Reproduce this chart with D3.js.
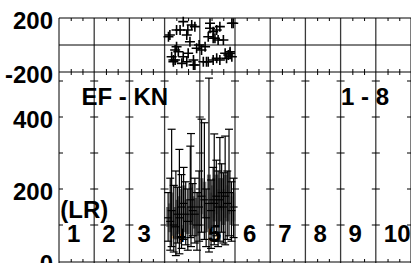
<!DOCTYPE html>
<html>
<head>
<meta charset="utf-8">
<script src="https://cdn.jsdelivr.net/npm/d3@7"></script>
<style>
    body { margin: 0; background: #fff; }
    svg { display: block; }
    text { font-family: "Liberation Sans", Arial, sans-serif; font-weight: bold; font-size: 24px; fill: #000; }
</style>
</head>
<body>
<div id="chart"></div>
<script>
// top panel scatter (x in column units, y value)
let topX = [3.53, 3.77, 3.86, 3.34, 3.15, 3.11, 3.63, 3.72, 3.44, 4.29, 4.38, 4.48, 4.57, 4.43, 4.24,
    4.67, 4.91, 4.15, 4.05, 3.91, 3.34, 3.39, 3.20, 3.30, 3.53, 3.67, 3.63, 3.86, 3.82, 4.10, 4.24,
    4.38, 4.48, 4.72, 4.81, 4.91, 4.76, 4.86, 4.57, 3.49, 3.25, 4.95, 4.29, 4.38, 3.30, 4.86, 3.25,
    3.82, 4.19, 3.66, 3.98, 4.52];
let topY = [173, 148, 136, 111, 74, 61, 74, 24, 111, 124, 99, 111, 136, 50, 61,
    37, 161, -13, -37, -24, -13, -50, -87, -111, -87, -61, -124, -148, -111, -124, -124,
    -111, -99, -61, -74, -87, -99, -50, -111, -136, -124, 161, 161, 50, -37, -61, -111,
    -148, -124, 111, 0, 37];

// bottom panel ranges
let barX    = [3.10, 3.16, 3.20, 3.26, 3.32, 3.37, 3.42, 3.48, 3.54, 3.60, 3.66, 3.73, 3.75, 3.80, 3.86, 3.92, 3.98,
    4.05, 4.13, 4.18, 4.26, 4.32, 4.38, 4.41, 4.47, 4.52, 4.57, 4.62, 4.67, 4.72, 4.78, 4.83, 4.90, 4.96];
let barLow  = [55, 30, 40, 25, 15, 50, 20, 35, 60, 45, 30, 65, 40, 70, 50, 30, 55,
    80, 60, 40, 25, 35, 60, 45, 70, 40, 55, 80, 50, 45, 60, 70, 55, 65];
let barQ1   = [95, 80, 90, 70, 60, 85, 75, 90, 110, 80, 75, 120, 100, 110, 90, 70, 100,
    130, 120, 80, 90, 95, 120, 110, 130, 100, 110, 140, 100, 120, 110, 130, 100, 110];
let barMed  = [120, 110, 140, 100, 95, 130, 120, 150, 160, 130, 110, 170, 150, 140, 130, 100, 150,
    180, 170, 120, 160, 140, 170, 160, 180, 150, 170, 190, 150, 180, 160, 190, 140, 150];
let barQ3   = [150, 160, 190, 140, 150, 170, 180, 200, 210, 170, 150, 215, 205, 180, 175, 140, 190,
    230, 220, 160, 240, 190, 210, 230, 240, 200, 230, 230, 200, 240, 210, 250, 180, 190];
let barHigh = [190, 230, 366, 210, 250, 205, 310, 240, 260, 220, 200, 319, 354, 215, 230, 190, 250,
    394, 384, 200, 508, 225, 260, 353, 280, 250, 343, 270, 245, 347, 250, 366, 220, 230];

let topTicks = [-200, 200];
let botTicks = [0, 200, 400];
let botMarks = [100, 200, 300, 400, 500];
let colLabels = ['1', '2', '3', '4', '5', '6', '7', '8', '9', '10'];

let width = 411,
    height = 263,
    left = 59;

let x = d3.scaleLinear().domain([0, 10]).range([left, 411]);
let yTop = d3.scaleLinear().domain([-200, 200]).range([72, 18]);
let yBot = d3.scaleLinear().domain([0, 500]).range([261, 81]);

let svg = d3.select('#chart').append('svg')
    .attr('width', width)
    .attr('height', height);

let minor = d3.range(1, 31).map(function(d) { return d / 3; }).filter(function(d, i) { return (i + 1) % 3 != 0; });

// vertical grid lines
svg.append('g')
    .selectAll('line')
    .data(d3.range(1, 11))
    .enter()
    .append('line')
    .attr('x1', function(d) { return x(d); })
    .attr('x2', function(d) { return x(d); })
    .attr('y1', yTop(200))
    .attr('y2', height)
    .attr('stroke', '#3a3a3a')
    .attr('stroke-width', 1.3);

// frame lines
svg.append('line').attr('x1', left).attr('x2', width).attr('y1', yTop(200)).attr('y2', yTop(200)).attr('stroke', '#000');
svg.append('line').attr('x1', left).attr('x2', width).attr('y1', yTop(0)).attr('y2', yTop(0)).attr('stroke', '#000');
svg.append('line').attr('x1', left).attr('x2', width).attr('y1', yTop(-200)).attr('y2', yTop(-200)).attr('stroke', '#000');
svg.append('line').attr('x1', left).attr('x2', width).attr('y1', 262).attr('y2', 262).attr('stroke', '#000');
svg.append('line').attr('x1', left).attr('x2', left).attr('y1', yTop(200)).attr('y2', height).attr('stroke', '#000');

// minor ticks on the x edges
svg.append('g')
    .attr('transform', 'translate(0,' + yTop(200) + ')')
    .call(d3.axisBottom(x).tickValues(minor).tickSize(3).tickFormat(''))
    .call(function(g) { g.select('.domain').remove(); });
svg.append('g')
    .attr('transform', 'translate(0,' + (yTop(-200) - 3) + ')')
    .call(d3.axisBottom(x).tickValues(minor).tickSize(6).tickFormat(''))
    .call(function(g) { g.select('.domain').remove(); });
svg.append('g')
    .attr('transform', 'translate(0,262)')
    .call(d3.axisTop(x).tickValues(minor).tickSize(3).tickFormat(''))
    .call(function(g) { g.select('.domain').remove(); });

// short horizontal marks on every grid line in the lower panel
let marks = [];
d3.range(0, 11).forEach(function(c) {
    botMarks.forEach(function(v) { marks.push({ c: c, v: v }); });
});
svg.append('g')
    .selectAll('line')
    .data(marks)
    .enter()
    .append('line')
    .attr('x1', function(d) { return d.c == 0 ? x(0) : x(d.c) - 4; })
    .attr('x2', function(d) { return d.c == 10 ? x(10) : x(d.c) + 4; })
    .attr('y1', function(d) { return yBot(d.v); })
    .attr('y2', function(d) { return yBot(d.v); })
    .attr('stroke', '#000');

// y labels
function labelAxis(g) {
    g.select('.domain').remove();
    g.selectAll('.tick line').remove();
    g.selectAll('.tick text')
        .attr('dy', '10.5px')
        .attr('font-size', null)
        .attr('font-family', null)
        .attr('fill', '#000');
}
svg.append('g')
    .attr('transform', 'translate(' + left + ',0)')
    .call(d3.axisLeft(yTop).tickValues(topTicks).tickSize(0).tickPadding(6).tickFormat(String))
    .call(labelAxis);
svg.append('g')
    .attr('transform', 'translate(' + left + ',0)')
    .call(d3.axisLeft(yBot).tickValues(botTicks).tickSize(0).tickPadding(6).tickFormat(String))
    .call(labelAxis);

// panel texts
svg.append('text').attr('x', 81.5).attr('y', 105).text('EF - KN');
svg.append('text').attr('x', x(8) + 0.5).attr('y', 105).text('1 - 8');
svg.append('text').attr('x', 60.3).attr('y', 218.3).text('(LR)');
svg.append('g')
    .selectAll('text')
    .data(colLabels)
    .enter()
    .append('text')
    .attr('x', function(d, i) { return x(i) + 8; })
    .attr('y', 241.7)
    .text(function(d) { return d; });

// top scatter
let pts = svg.append('g')
    .attr('stroke', '#000')
    .attr('stroke-width', 1.6);
topX.forEach(function(v, i) {
    let cx = x(v), cy = yTop(topY[i]);
    pts.append('path')
        .attr('d', 'M' + (cx - 5) + ',' + cy + 'H' + (cx + 5) + 'M' + cx + ',' + (cy - 5) + 'V' + (cy + 5));
});

// lower ranges
let bars = svg.append('g');
bars.selectAll('.iqr')
    .data(barX)
    .enter()
    .append('line')
    .attr('class', 'iqr')
    .attr('x1', function(d) { return x(d); })
    .attr('x2', function(d) { return x(d); })
    .attr('y1', function(d, i) { return yBot(barQ1[i]); })
    .attr('y2', function(d, i) { return yBot(barQ3[i]); })
    .attr('stroke', '#666')
    .attr('stroke-opacity', 0.85)
    .attr('stroke-width', 4);
bars.selectAll('.rng')
    .data(barX)
    .enter()
    .append('line')
    .attr('class', 'rng')
    .attr('x1', function(d) { return x(d); })
    .attr('x2', function(d) { return x(d); })
    .attr('y1', function(d, i) { return yBot(barLow[i]); })
    .attr('y2', function(d, i) { return yBot(barHigh[i]); })
    .attr('stroke', '#000')
    .attr('stroke-width', 1.2);
[barLow, barMed, barHigh].forEach(function(arr) {
    bars.append('g')
        .selectAll('line')
        .data(barX)
        .enter()
        .append('line')
        .attr('x1', function(d) { return x(d) - 4; })
        .attr('x2', function(d) { return x(d) + 4; })
        .attr('y1', function(d, i) { return yBot(arr[i]); })
        .attr('y2', function(d, i) { return yBot(arr[i]); })
        .attr('stroke', '#000')
        .attr('stroke-width', 1.2);
});
</script>
</body>
</html>
